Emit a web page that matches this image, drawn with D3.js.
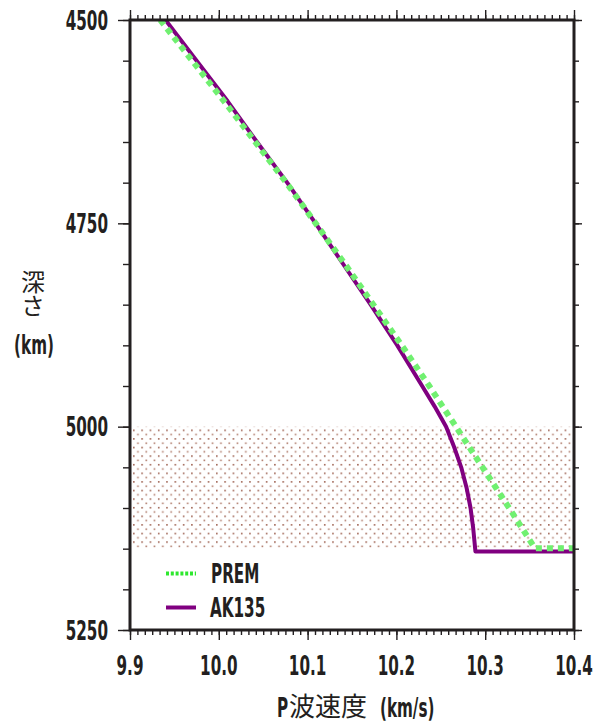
<!DOCTYPE html>
<html>
<head>
<meta charset="utf-8">
<script src="https://cdn.jsdelivr.net/npm/d3@7"></script>
<style>
  html, body { margin: 0; padding: 0; background: #fff; }
  svg { display: block; }
</style>
</head>
<body>
<div id="chart"></div>
<script>
// depth (km) and P-wave velocity (km/s)
var premDepth = [4500, 4550, 4600, 4650, 4700, 4750, 4800, 4850, 4900, 4950, 5000, 5050, 5100, 5149.5, 5149.5];
var premVp    = [9.934, 9.970, 10.006, 10.041, 10.076, 10.109, 10.142, 10.174, 10.206, 10.237, 10.267, 10.297, 10.327, 10.356, 11.027];
var akDepth = [4500, 4550, 4600, 4650, 4700, 4750, 4800, 4850, 4900, 4950, 4975, 5000, 5025, 5050, 5075, 5100, 5125, 5153.5, 5153.5];
var akVp    = [9.940, 9.975, 10.010, 10.043, 10.077, 10.109, 10.140, 10.171, 10.201, 10.229, 10.243, 10.256, 10.265, 10.273, 10.279, 10.2835, 10.2865, 10.289, 11.043];
var shadeDepth = [5000, 5150];

var xTicks = [9.9, 10.0, 10.1, 10.2, 10.3, 10.4];
var xTickLabels = ['9.9', '10.0', '10.1', '10.2', '10.3', '10.4'];
var yTicks = [4500, 4750, 5000, 5250];
var yTickLabels = ['4500', '4750', '5000', '5250'];
var legendNames = ['PREM', 'AK135'];

var W = 594, H = 722;
var ink = '#231f20';
var latin = "'DejaVu Sans Condensed', 'DejaVu Sans', sans-serif";
var cjk = "'Noto Sans CJK JP', 'Noto Sans CJK SC', sans-serif";

var x = d3.scaleLinear().domain([9.9, 10.4]).range([130, 574]);
var y = d3.scaleLinear().domain([4500, 5250]).range([20, 630]);

var svg = d3.select('#chart').append('svg')
    .attr('width', W)
    .attr('height', H);

svg.append('rect').attr('width', W).attr('height', H).attr('fill', '#fff');

var defs = svg.append('defs');
var pat = defs.append('pattern')
    .attr('id', 'dots')
    .attr('patternUnits', 'userSpaceOnUse')
    .attr('x', 133).attr('y', 429.5)
    .attr('width', 8.3).attr('height', 8.6);
pat.append('rect').attr('x', 0).attr('y', 0).attr('width', 1.6).attr('height', 1.6).attr('fill', '#a06555');
pat.append('rect').attr('x', 4.15).attr('y', 4.3).attr('width', 1.6).attr('height', 1.6).attr('fill', '#b07c6c');

defs.append('clipPath').attr('id', 'plotclip')
  .append('rect')
    .attr('x', x.range()[0]).attr('y', y.range()[0])
    .attr('width', x.range()[1] - x.range()[0])
    .attr('height', y.range()[1] - y.range()[0]);

// shaded layer
svg.append('rect')
    .attr('x', x.range()[0] + 1.5)
    .attr('y', y(shadeDepth[0]))
    .attr('width', x.range()[1] - x.range()[0] - 3)
    .attr('height', y(shadeDepth[1]) - y(shadeDepth[0]))
    .attr('fill', 'url(#dots)');

var line = d3.line()
    .x(function(d) { return x(d[1]); })
    .y(function(d) { return y(d[0]); });

var plot = svg.append('g').attr('clip-path', 'url(#plotclip)');

plot.append('path')
    .datum(d3.zip(akDepth, akVp))
    .attr('d', line)
    .attr('fill', 'none')
    .attr('stroke', '#800080')
    .attr('stroke-width', 4)
    .attr('stroke-linejoin', 'round');

plot.append('path')
    .datum(d3.zip(premDepth, premVp))
    .attr('d', line)
    .attr('fill', 'none')
    .attr('stroke', '#70f070')
    .attr('stroke-width', 6)
    .attr('stroke-dasharray', '6,5');

// frame
svg.append('rect')
    .attr('x', x.range()[0]).attr('y', y.range()[0])
    .attr('width', x.range()[1] - x.range()[0])
    .attr('height', y.range()[1] - y.range()[0])
    .attr('fill', 'none')
    .attr('stroke', ink)
    .attr('stroke-width', 3);

// ticks
var xMinor = d3.range(0, 61).map(function(i) { return 9.9 + i * 0.1 / 12; });
var yMinor = d3.range(4500, 5251, 50);

function ticks(axis, tx, ty) {
  var g = svg.append('g').attr('transform', 'translate(' + tx + ',' + ty + ')').call(axis);
  g.select('.domain').remove();
  g.selectAll('line').attr('stroke', ink).attr('stroke-width', 1.4);
  g.selectAll('text').remove();
}
ticks(d3.axisBottom(x).tickValues(xMinor).tickSize(5).tickFormat(''), 0, 630);
ticks(d3.axisBottom(x).tickValues(xTicks).tickSize(10).tickFormat(''), 0, 630);
ticks(d3.axisTop(x).tickValues(xMinor).tickSize(5).tickFormat(''), 0, 20);
ticks(d3.axisTop(x).tickValues(xTicks).tickSize(10).tickFormat(''), 0, 20);
ticks(d3.axisLeft(y).tickValues(yMinor).tickSize(7).tickFormat(''), 130, 0);
ticks(d3.axisLeft(y).tickValues(yTicks).tickSize(12).tickFormat(''), 130, 0);
ticks(d3.axisRight(y).tickValues(yMinor).tickSize(5).tickFormat(''), 574, 0);
ticks(d3.axisRight(y).tickValues(yTicks).tickSize(8).tickFormat(''), 574, 0);

// narrow latin text
function narrow(px, py, str, anchor, size) {
  return svg.append('text')
      .attr('transform', 'translate(' + px + ',' + py + ') scale(0.65,1)')
      .attr('text-anchor', anchor || 'start')
      .attr('font-family', latin)
      .attr('font-weight', 'bold')
      .attr('font-size', size || 26)
      .attr('fill', ink)
      .text(str);
}

xTicks.forEach(function(v, i) { narrow(x(v), 675, xTickLabels[i], 'middle'); });
yTicks.forEach(function(v, i) { narrow(108, y(v) + 9.5, yTickLabels[i], 'end'); });

// x title
narrow(277, 717, 'P', 'start');
svg.append('text')
    .attr('x', 289).attr('y', 716)
    .attr('font-family', cjk).attr('font-size', 26).attr('fill', ink)
    .text('波速度');
narrow(380, 717, '(km/s)', 'start');

// y title, stacked vertically
svg.append('text')
    .attr('x', 33).attr('y', 270)
    .style('writing-mode', 'vertical-rl')
    .attr('font-family', cjk).attr('font-size', 24).attr('fill', ink)
    .text('深さ');
narrow(34, 354, '(km)', 'middle');

// legend
var leg = svg.append('g');
leg.append('line')
    .attr('x1', 166).attr('x2', 196).attr('y1', 573.5).attr('y2', 573.5)
    .attr('stroke', '#2ee82e').attr('stroke-width', 4).attr('stroke-dasharray', '3,1.8');
leg.append('line')
    .attr('x1', 166).attr('x2', 196).attr('y1', 607.5).attr('y2', 607.5)
    .attr('stroke', '#800080').attr('stroke-width', 4);
narrow(211, 583, legendNames[0], 'start');
narrow(210, 617, legendNames[1], 'start');
</script>
</body>
</html>
